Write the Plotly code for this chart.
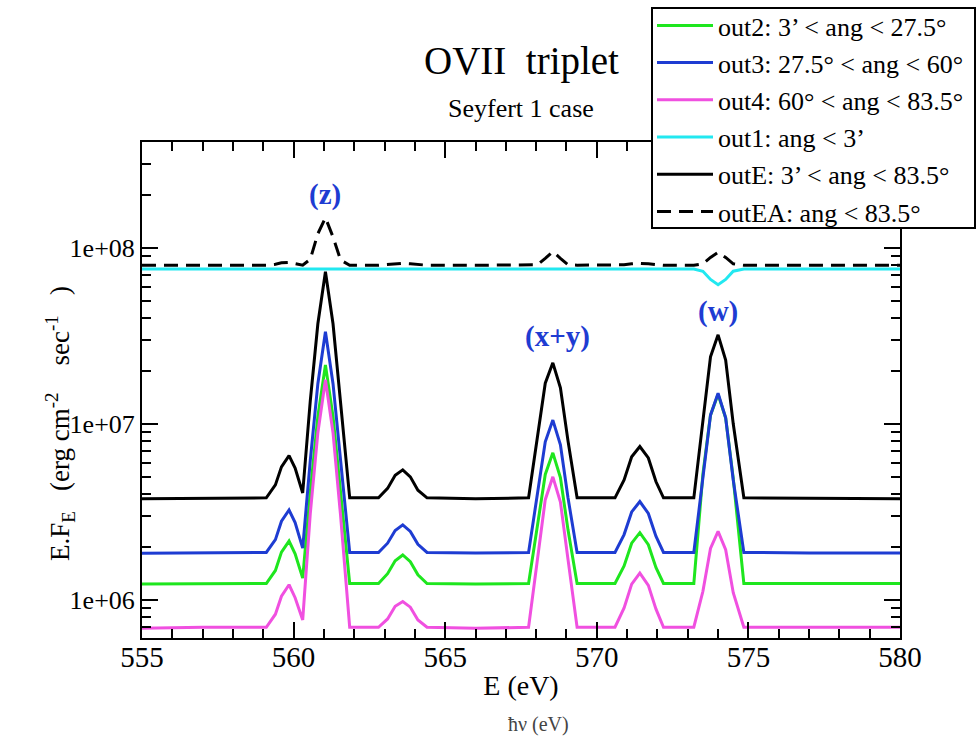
import plotly.graph_objects as go

# ---------------- data ----------------
energy = [555.0, 557.0, 559.1, 559.4, 559.6, 559.85, 560.05, 560.3, 560.55, 560.8,
          561.05, 561.3, 561.55, 561.85, 562.8, 563.1, 563.35, 563.6, 563.85, 564.1,
          564.4, 566.0, 567.75, 568.05, 568.3, 568.55, 568.8, 569.05, 569.35, 570.0,
          570.6, 570.9, 571.15, 571.42, 571.7, 571.95, 572.2, 573.2, 573.5, 573.75,
          574.0, 574.25, 574.5, 574.85, 577.0, 580.0]

out2 = [1.23e6, 1.24e6, 1.24e6, 1.47e6, 1.87e6, 2.16e6, 1.83e6, 1.33e6,
        4.1e6, 1.10e7, 2.16e7, 1.10e7, 3.9e6, 1.24e6,
        1.24e6, 1.41e6, 1.67e6, 1.80e6, 1.65e6, 1.39e6, 1.24e6,
        1.23e6,
        1.24e6, 2.64e6, 5.16e6, 6.84e6, 4.95e6, 2.5e6, 1.24e6,
        1.24e6,
        1.24e6, 1.56e6, 2.10e6, 2.41e6, 2.06e6, 1.53e6, 1.24e6,
        1.24e6, 5.2e6, 1.12e7, 1.47e7, 1.08e7, 4.9e6, 1.24e6,
        1.24e6, 1.24e6]

out3 = [1.84e6, 1.85e6, 1.86e6, 2.2e6, 2.8e6, 3.24e6, 2.75e6, 1.97e6,
        6.2e6, 1.69e7, 3.33e7, 1.69e7, 6.0e6, 1.86e6,
        1.86e6, 2.10e6, 2.48e6, 2.67e6, 2.45e6, 2.07e6, 1.86e6,
        1.85e6,
        1.86e6, 4.0e6, 7.9e6, 1.05e7, 7.6e6, 3.8e6, 1.86e6,
        1.86e6,
        1.86e6, 2.35e6, 3.16e6, 3.62e6, 3.1e6, 2.3e6, 1.86e6,
        1.86e6, 5.0e6, 1.12e7, 1.49e7, 1.08e7, 4.8e6, 1.86e6,
        1.85e6, 1.85e6]

out4 = [6.9e5, 7.0e5, 7.0e5, 8.3e5, 1.05e6, 1.22e6, 1.03e6, 7.7e5,
        3.09e6, 8.9e6, 1.78e7, 8.9e6, 3.0e6, 7.0e5,
        7.0e5, 7.8e5, 9.2e5, 9.8e5, 9.1e5, 7.7e5, 7.0e5,
        6.9e5,
        7.0e5, 1.78e6, 3.71e6, 5.0e6, 3.6e6, 1.7e6, 7.0e5,
        7.0e5,
        7.0e5, 9.0e5, 1.23e6, 1.42e6, 1.21e6, 8.9e5, 7.0e5,
        7.0e5, 1.12e6, 1.96e6, 2.45e6, 1.93e6, 1.10e6, 7.0e5,
        7.0e5, 7.0e5]

out1 = [7.57e7, 7.57e7, 7.57e7, 7.57e7, 7.57e7, 7.57e7, 7.57e7, 7.57e7,
        7.57e7, 7.57e7, 7.57e7, 7.57e7, 7.57e7, 7.57e7,
        7.57e7, 7.57e7, 7.57e7, 7.57e7, 7.57e7, 7.57e7, 7.57e7,
        7.57e7,
        7.57e7, 7.57e7, 7.57e7, 7.57e7, 7.57e7, 7.57e7, 7.57e7,
        7.57e7,
        7.57e7, 7.57e7, 7.57e7, 7.57e7, 7.57e7, 7.57e7, 7.57e7,
        7.57e7, 7.35e7, 6.6e7, 6.17e7, 6.6e7, 7.35e7, 7.57e7,
        7.57e7, 7.57e7]

outE = [3.75e6, 3.78e6, 3.8e6, 4.5e6, 5.7e6, 6.6e6, 5.6e6, 4.05e6,
        1.35e7, 3.7e7, 7.3e7, 3.7e7, 1.3e7, 3.8e6,
        3.8e6, 4.3e6, 5.1e6, 5.48e6, 5.0e6, 4.2e6, 3.8e6,
        3.75e6,
        3.8e6, 8.5e6, 1.7e7, 2.22e7, 1.6e7, 8.0e6, 3.8e6,
        3.8e6,
        3.8e6, 4.8e6, 6.5e6, 7.43e6, 6.4e6, 4.7e6, 3.8e6,
        3.8e6, 1.05e7, 2.4e7, 3.2e7, 2.3e7, 1.0e7, 3.8e6,
        3.78e6, 3.75e6]

outEA = [7.95e7, 7.95e7, 7.95e7, 8.05e7, 8.2e7, 8.25e7, 8.1e7, 7.95e7,
         8.6e7, 1.2e8, 1.48e8, 1.15e8, 8.5e7, 7.95e7,
         7.95e7, 8.0e7, 8.1e7, 8.15e7, 8.1e7, 8.0e7, 7.95e7,
         7.95e7,
         7.95e7, 8.0e7, 8.7e7, 9.5e7, 8.7e7, 8.0e7, 7.95e7,
         7.95e7,
         7.95e7, 8.0e7, 8.1e7, 8.15e7, 8.1e7, 8.0e7, 7.95e7,
         7.95e7, 8.1e7, 8.8e7, 9.4e7, 8.8e7, 8.1e7, 7.95e7,
         7.95e7, 7.95e7]

series_names = ["out2: 3’ &lt; ang &lt; 27.5°",
                "out3: 27.5° &lt; ang &lt; 60°",
                "out4: 60° &lt; ang &lt; 83.5°",
                "out1: ang &lt; 3’",
                "outE: 3’ &lt; ang &lt; 83.5°",
                "outEA: ang &lt; 83.5°"]

line_labels = ["(z)", "(x+y)", "(w)"]
line_label_E = [561.05, 568.7, 574.0]
line_label_logy = [8.30, 7.494, 7.636]

x_ticks = [555, 560, 565, 570, 575, 580]
y_ticks = [1e6, 1e7, 1e8]
y_tick_text = ["1e+06", "1e+07", "1e+08"]
y_minor = [m * 10 ** p for p in (5, 6, 7, 8) for m in range(2, 10)]

# ---------------- styling ----------------
FONT = "Liberation Serif, Tinos, Times New Roman, Times, Nimbus Roman, DejaVu Serif, serif"
colors = ["#1ee61e", "#1e3cd2", "#f050e0", "#22e8f0", "#000000", "#000000"]
dashes = ["solid", "solid", "solid", "solid", "solid", "14px,8px"]
widths = [3, 3, 3, 3, 3, 3]
data = [out2, out3, out4, out1, outE, outEA]

W, H = 979, 736
L, R, T, B = 142, 79, 142, 98
PW, PH = W - L - R, H - T - B


def px_x(px):
    return (px - L) / PW


def px_y(py):
    return (H - B - py) / PH


fig = go.Figure()
for i, (name, y) in enumerate(zip(series_names, data)):
    fig.add_trace(go.Scatter(
        x=energy, y=y, mode="lines", name=name, legendgroup=f"g{i}",
        line=dict(color=colors[i], width=widths[i], dash=dashes[i]),
    ))

axis_common = dict(
    showline=True, linecolor="black", linewidth=2, mirror="ticks",
    ticks="inside", tickcolor="black", tickwidth=2, ticklen=16,
    showgrid=False, zeroline=False,
)

fig.update_xaxes(
    range=[555, 580], tickvals=x_ticks,
    tickfont=dict(family=FONT, size=29, color="black"),
    ticklabelstandoff=-8,
    minor=dict(ticks="inside", ticklen=9, tickwidth=2, tickcolor="black", dtick=1, showgrid=False),
    title=dict(text="E (eV)", font=dict(family=FONT, size=28, color="black"), standoff=4),
    **axis_common,
)
fig.update_yaxes(
    type="log", range=[5.784, 8.60], tickvals=y_ticks, ticktext=y_tick_text,
    tickfont=dict(family=FONT, size=26, color="black"),
    minor=dict(ticks="inside", ticklen=9, tickwidth=2, tickcolor="black",
               tickmode="array", tickvals=y_minor, showgrid=False),
    **axis_common,
)

annotations = [
    dict(text="OVII  triplet", xref="paper", yref="paper", x=0.5, y=1.163,
         showarrow=False, font=dict(family=FONT, size=39, color="black"),
         xanchor="center", yanchor="middle"),
    dict(text="Seyfert 1 case", xref="paper", yref="paper", x=0.5, y=1.068,
         showarrow=False, font=dict(family=FONT, size=26, color="black"),
         xanchor="center", yanchor="middle"),
    dict(text="E.F<sub>E</sub>   (erg cm<sup>-2</sup>    sec<sup>-1</sup>   )",
         xref="paper", yref="paper", x=px_x(60), y=px_y(424), textangle=-90,
         showarrow=False, font=dict(family=FONT, size=27, color="black"),
         xanchor="center", yanchor="middle"),
    dict(text="ħν (eV)", xref="paper", yref="paper", x=px_x(538), y=px_y(724),
         showarrow=False, font=dict(family=FONT, size=20, color="#444444"),
         xanchor="center", yanchor="middle"),
]
for lab, ex, ly in zip(line_labels, line_label_E, line_label_logy):
    annotations.append(dict(text=f"<b>{lab}</b>", x=ex, y=ly, xref="x", yref="y",
                            showarrow=False, font=dict(family=FONT, size=29, color="#1e3cd2"),
                            xanchor="center", yanchor="middle"))

# legend frame (white box covering the top-right of the axes frame)
shapes = [dict(type="rect", xref="paper", yref="paper", layer="above",
               x0=px_x(652), x1=px_x(975), y0=px_y(228), y1=px_y(8),
               fillcolor="white", line=dict(color="black", width=2))]

fig.update_layout(
    width=W, height=H,
    margin=dict(l=L, r=R, t=T, b=B, autoexpand=False),
    paper_bgcolor="white", plot_bgcolor="white",
    font=dict(family=FONT, color="black"),
    annotations=annotations,
    shapes=shapes,
    showlegend=True,
    legend=dict(
        xref="container", yref="container", x=652 / W, y=1 - 2 / H,
        xanchor="left", yanchor="top",
        bgcolor="rgba(0,0,0,0)", borderwidth=0,
        font=dict(family=FONT, size=26, color="black"),
        tracegroupgap=0.4, itemwidth=56,
    ),
)

fig.write_html("out.html", config={"displayModeBar": False},
               post_script="document.body.style.margin='0';document.body.style.overflow='hidden';")
